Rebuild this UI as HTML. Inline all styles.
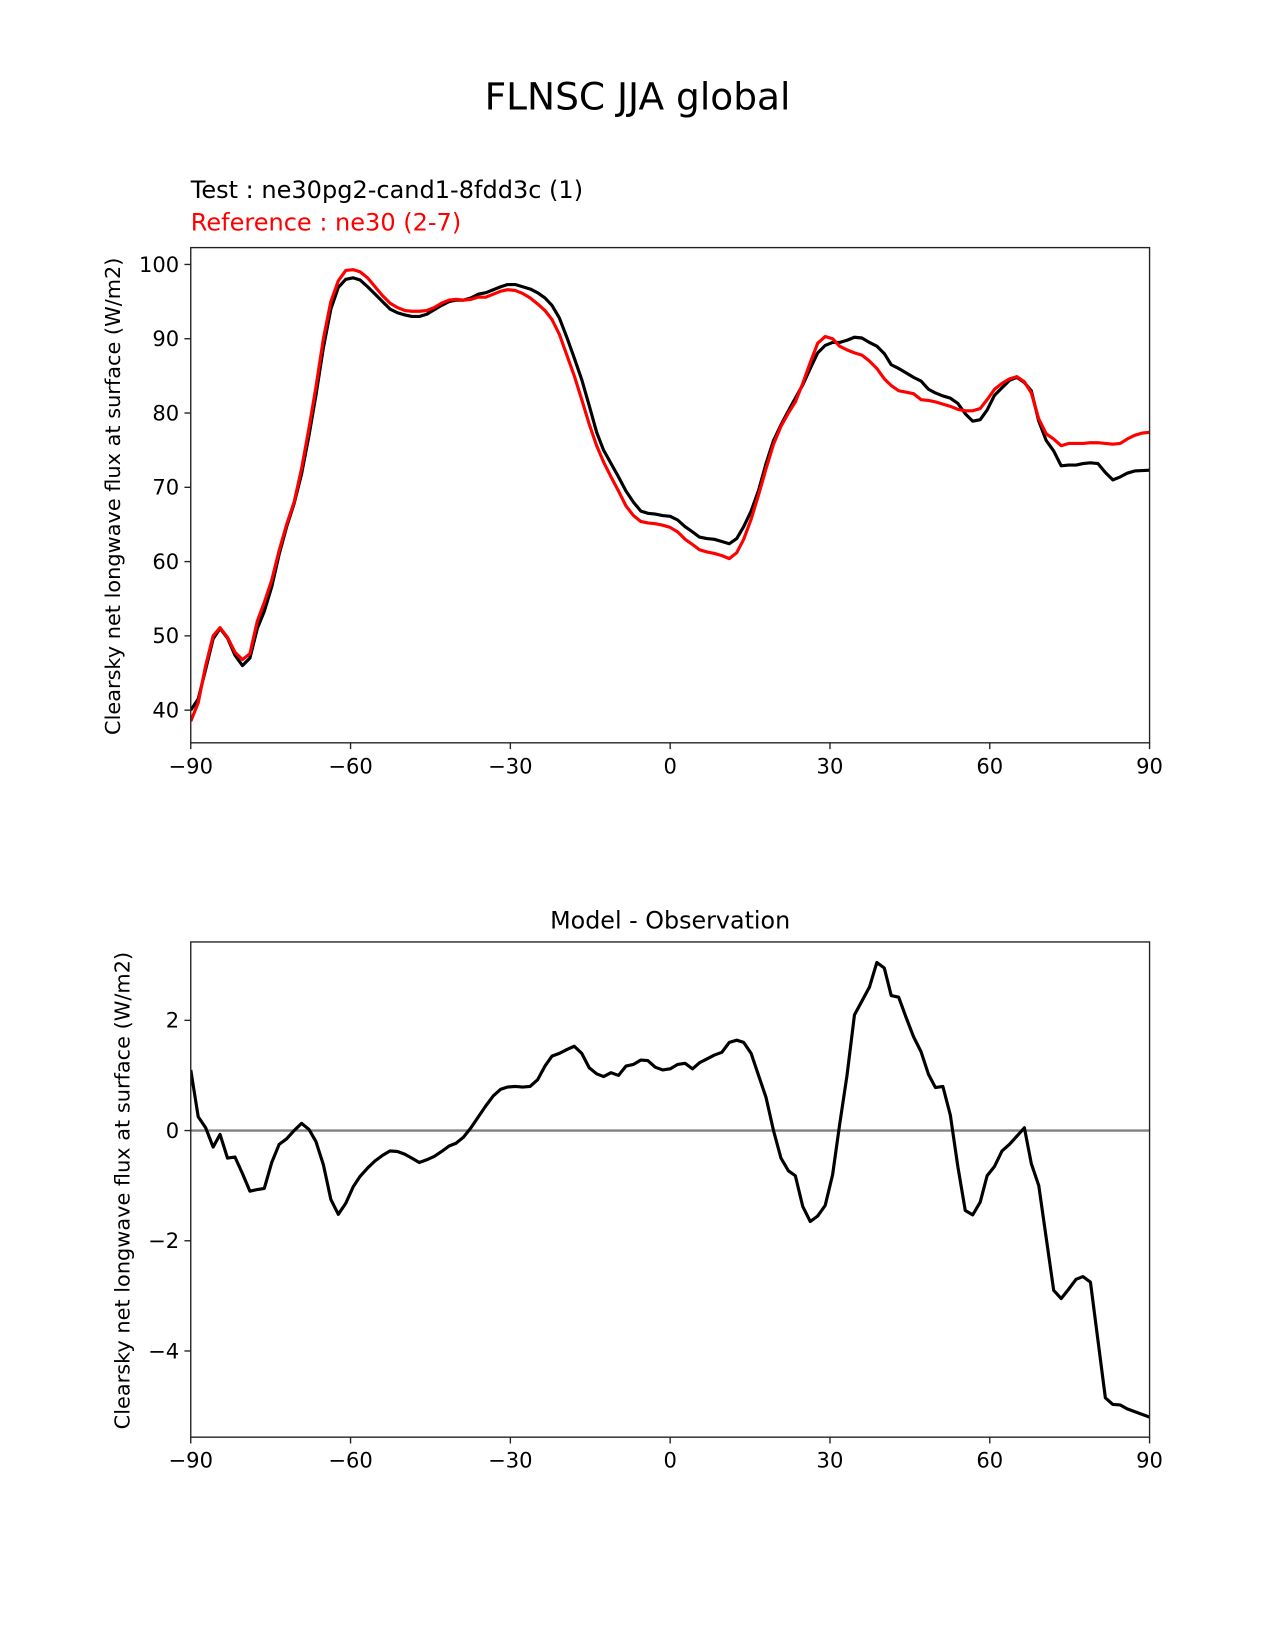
<!DOCTYPE html>
<html><head><meta charset="utf-8"><style>html,body{margin:0;padding:0;background:#fff}svg{display:block}text{font-family:"DejaVu Sans","Liberation Sans",sans-serif}</style></head>
<body>
<svg id="fig" width="1275" height="1650" viewBox="0 0 1210 1566" xmlns="http://www.w3.org/2000/svg">
<rect width="1210" height="1566" fill="#fff"/>
<text x="605" y="104" font-size="35.6" text-anchor="middle">FLNSC JJA global</text>
<text x="181" y="188" font-size="22.8">Test : ne30pg2-cand1-8fdd3c (1)</text>
<text x="181" y="219" font-size="22.8" fill="#ff0000">Reference : ne30 (2-7)</text>
<text x="636" y="881" font-size="22.6" text-anchor="middle">Model - Observation</text>
<g id="top"></g>
<g id="bot"></g>
</svg>
<script>
const lat=[-90,-88.6,-87.2,-85.8,-84.5,-83.1,-81.7,-80.3,-78.9,-77.5,-76.2,-74.8,-73.4,-72,-70.6,-69.2,-67.8,-66.5,-65.1,-63.7,-62.3,-60.9,-59.5,-58.2,-56.8,-55.4,-54,-52.6,-51.2,-49.8,-48.5,-47.1,-45.7,-44.3,-42.9,-41.5,-40.2,-38.8,-37.4,-36,-34.6,-33.2,-31.8,-30.5,-29.1,-27.7,-26.3,-24.9,-23.5,-22.2,-20.8,-19.4,-18,-16.6,-15.2,-13.8,-12.5,-11.1,-9.7,-8.3,-6.9,-5.5,-4.2,-2.8,-1.4,0,1.4,2.8,4.2,5.5,6.9,8.3,9.7,11.1,12.5,13.8,15.2,16.6,18,19.4,20.8,22.2,23.5,24.9,26.3,27.7,29.1,30.5,31.8,33.2,34.6,36,37.4,38.8,40.2,41.5,42.9,44.3,45.7,47.1,48.5,49.8,51.2,52.6,54,55.4,56.8,58.2,59.5,60.9,62.3,63.7,65.1,66.5,67.8,69.2,70.6,72,73.4,74.8,76.2,77.5,78.9,80.3,81.7,83.1,84.5,85.8,87.2,88.6,90];
const testVals=[40,41.5,45.5,49.6,51,49.7,47.4,46,47,51,53.3,56.6,61,64.7,67.8,71.8,77,82.4,88.8,94,96.9,98,98.2,97.9,97,96,95,94,93.5,93.2,93,93,93.3,93.9,94.5,95,95.2,95.2,95.5,96,96.2,96.6,97,97.3,97.3,97,96.7,96.2,95.5,94.5,92.8,90.2,87.4,84.5,81,77.4,75,73.2,71.4,69.5,68,66.8,66.5,66.4,66.2,66.1,65.6,64.7,64,63.3,63.1,63,62.7,62.4,63.1,64.7,66.8,69.6,73.2,76.3,78.4,80.3,82,83.8,86,88.1,89.1,89.5,89.5,89.8,90.2,90.1,89.5,89,88,86.5,86,85.4,84.8,84.3,83.2,82.7,82.3,82,81.3,79.9,78.9,79.1,80.4,82.4,83.4,84.4,84.8,84.1,83,78.9,76.3,74.9,72.9,73,73,73.2,73.3,73.2,72,71,71.4,71.9,72.2,72.25,72.3];
const refVals=[38.5,41,46,50,51.1,49.8,47.8,46.8,47.6,52,54.5,57.5,61.5,65,68,72.5,78,83.5,90,95,97.8,99.2,99.3,99,98.2,97,95.8,94.8,94.2,93.8,93.7,93.7,93.8,94.2,94.8,95.2,95.3,95.2,95.3,95.6,95.6,96,96.4,96.6,96.5,96.1,95.5,94.7,93.8,92.6,90.6,87.8,85,81.8,78.5,75.6,73.4,71.4,69.5,67.5,66.2,65.4,65.2,65.1,64.9,64.6,64,63,62.3,61.6,61.3,61.1,60.8,60.4,61.2,63,65.7,69,72.5,75.8,78.2,80,81.5,84,86.8,89.4,90.3,90,89,88.5,88.1,87.8,87,86,84.6,83.7,83,82.8,82.6,81.8,81.7,81.5,81.2,80.9,80.5,80.3,80.3,80.6,81.8,83.2,84,84.6,84.9,84.2,82.7,79.2,77.2,76.5,75.6,75.9,75.9,75.9,76,76,75.9,75.8,75.9,76.5,77,77.3,77.4];
const diffVals=[1.1,0.25,0.05,-0.3,-0.07,-0.5,-0.48,-0.78,-1.1,-1.07,-1.05,-0.58,-0.25,-0.15,0,0.13,0.02,-0.2,-0.62,-1.25,-1.52,-1.32,-1.02,-0.83,-0.68,-0.55,-0.45,-0.37,-0.38,-0.43,-0.5,-0.58,-0.53,-0.47,-0.38,-0.28,-0.23,-0.12,0.05,0.25,0.45,0.63,0.75,0.79,0.8,0.79,0.8,0.92,1.17,1.35,1.4,1.47,1.53,1.4,1.14,1.03,0.98,1.05,1.0,1.17,1.2,1.28,1.27,1.15,1.1,1.12,1.2,1.22,1.12,1.23,1.3,1.37,1.42,1.6,1.64,1.6,1.4,1.0,0.6,0.0,-0.5,-0.73,-0.82,-1.38,-1.65,-1.55,-1.36,-0.8,0.1,1.0,2.1,2.35,2.6,3.05,2.95,2.45,2.42,2.05,1.7,1.43,1.02,0.78,0.8,0.28,-0.65,-1.45,-1.53,-1.3,-0.82,-0.65,-0.37,-0.25,-0.1,0.05,-0.6,-1.0,-1.95,-2.9,-3.05,-2.88,-2.7,-2.65,-2.75,-3.8,-4.85,-4.97,-4.98,-5.05,-5.1,-5.15,-5.2];
const xTicks=[-90,-60,-30,0,30,60,90];
const xTickLabels=["−90","−60","−30","0","30","60","90"];
const topYTicks=[40,50,60,70,80,90,100];
const botYTicks=[-4,-2,0,2];
const botYTickLabels=["−4","−2","0","2"];

const NS="http://www.w3.org/2000/svg";
function mk(parent,tag,attrs,txt){const e=document.createElementNS(NS,tag);for(const k in attrs)e.setAttribute(k,attrs[k]);if(txt!==undefined)e.textContent=txt;parent.appendChild(e);return e;}
const X0=181,X1=1091;
const xs=v=>X0+(v+90)/180*(X1-X0);
const topY=v=>251+(100-v)*7.05;
const botY=v=>1073-v*52.3;

function panel(g,top,bot,yfn,yt,ytl,label,labelY){
  const axis=mk(g,'rect',{x:X0,y:top,width:X1-X0,height:bot-top,fill:'none',stroke:'#222','stroke-width':1.3});
  
  
  xTicks.forEach((t,i)=>{
    const tk=mk(g,'line',{x1:xs(t),x2:xs(t),y1:bot,y2:bot+6,stroke:'#222','stroke-width':1.3});
    
    
    const tl=mk(g,'text',{x:xs(t),y:bot+29,'font-size':20,'text-anchor':'middle'},xTickLabels[i]);
    
    
  });
  yt.forEach((t,i)=>{
    const tk=mk(g,'line',{x1:X0-6,x2:X0,y1:yfn(t),y2:yfn(t),stroke:'#222','stroke-width':1.3});
    
    
    const tl=mk(g,'text',{x:X0-11,y:yfn(t)+7,'font-size':20,'text-anchor':'end'},ytl[i]);
    
    
  });
  const yl=mk(g,'text',{x:0,y:0,'font-size':19.8,'text-anchor':'middle',transform:`translate(${label},${labelY}) rotate(-90)`},'Clearsky net longwave flux at surface (W/m2)');
  
  
}
function line(g,vals,yfn,color,name){
  const d=vals.map((v,i)=>(i?'L':'M')+xs(lat[i]).toFixed(2)+','+yfn(v).toFixed(2)).join('');
  const p=mk(g,'path',{d:d,fill:'none',stroke:color,'stroke-width':3,'stroke-linejoin':'round'});
  
  
}
const gt=document.getElementById('top'),gb=document.getElementById('bot');
const cpT=mk(gt,'clipPath',{id:'cpt'});mk(cpT,'rect',{x:X0,y:235,width:X1-X0,height:470});
const cpB=mk(gb,'clipPath',{id:'cpb'});mk(cpB,'rect',{x:X0,y:894,width:X1-X0,height:470});
const lt=mk(gt,'g',{'clip-path':'url(#cpt)'});
line(lt,testVals,topY,'#000','test-line');
line(lt,refVals,topY,'#ff0000','reference-line');
panel(gt,235,705,topY,topYTicks,topYTicks.map(String),114,471);
const lb=mk(gb,'g',{'clip-path':'url(#cpb)'});
const zl=mk(lb,'line',{x1:X0,x2:X1,y1:botY(0),y2:botY(0),stroke:'#808080','stroke-width':2.2});


line(lb,diffVals,botY,'#000','difference-line');
panel(gb,894,1364,botY,botYTicks,botYTickLabels,123,1130);
</script>
</body></html>
